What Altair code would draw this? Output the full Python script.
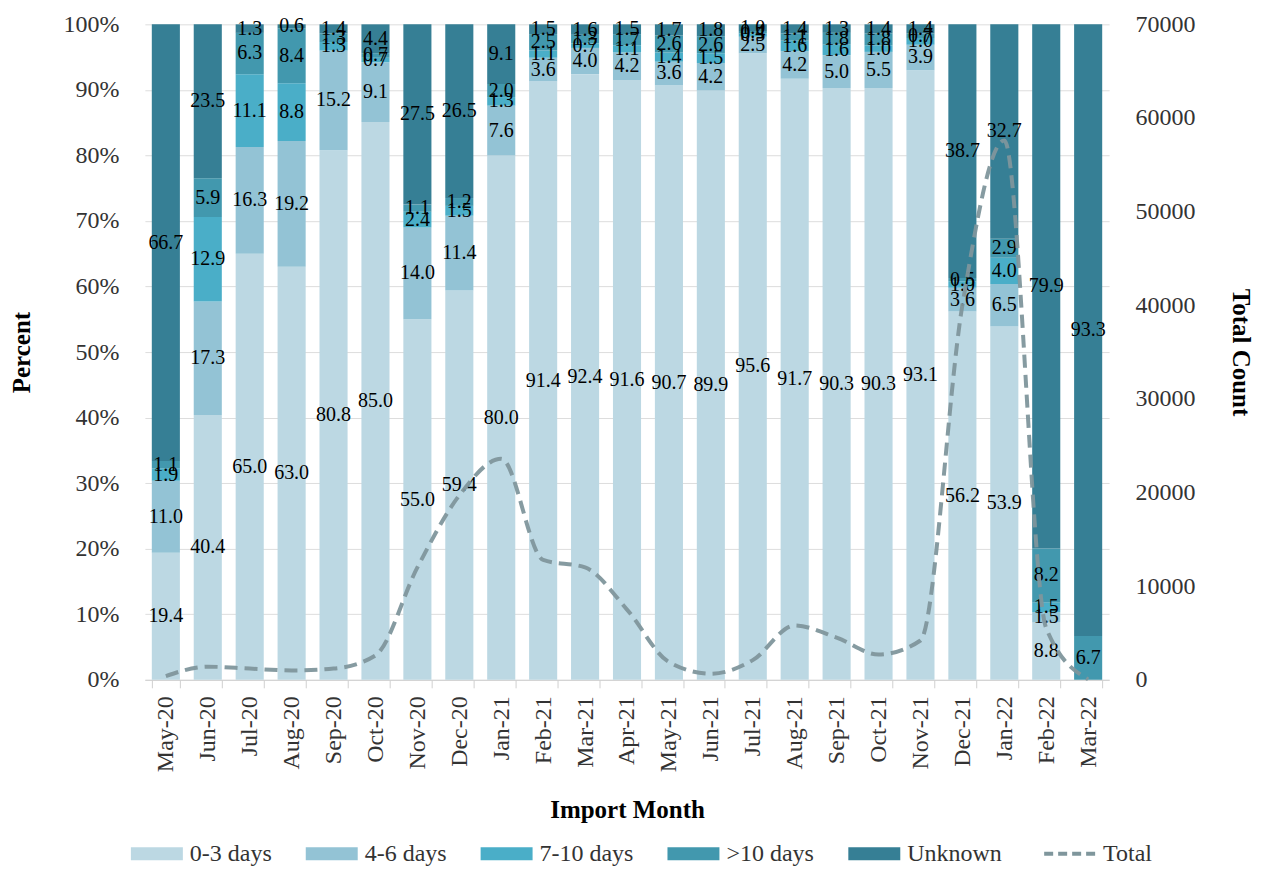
import altair as alt
import pandas as pd

months = ["May-20", "Jun-20", "Jul-20", "Aug-20", "Sep-20", "Oct-20", "Nov-20", "Dec-20",
          "Jan-21", "Feb-21", "Mar-21", "Apr-21", "May-21", "Jun-21", "Jul-21", "Aug-21",
          "Sep-21", "Oct-21", "Nov-21", "Dec-21", "Jan-22", "Feb-22", "Mar-22"]
categories = ["0-3 days", "4-6 days", "7-10 days", ">10 days", "Unknown"]
colors = ["#bcd8e3", "#93c3d5", "#4aaec8", "#4298ae", "#367f95"]
line_name = "Total"
line_color = "#7f969c"

d0_3 = [19.4, 40.4, 65.0, 63.0, 80.8, 85.0, 55.0, 59.4, 80.0, 91.4, 92.4, 91.6, 90.7, 89.9, 95.6, 91.7, 90.3, 90.3, 93.1, 56.2, 53.9, 8.8, 0.0]
d4_6 = [11.0, 17.3, 16.3, 19.2, 15.2, 9.1, 14.0, 11.4, 7.6, 3.6, 4.0, 4.2, 3.6, 4.2, 2.5, 4.2, 5.0, 5.5, 3.9, 3.6, 6.5, 1.5, 0.0]
d7_10 = [1.9, 12.9, 11.1, 8.8, 1.3, 0.7, 2.4, 1.5, 1.3, 1.1, 0.7, 1.1, 1.4, 1.5, 0.5, 1.6, 1.6, 1.0, 1.0, 1.0, 4.0, 1.5, 0.0]
d10p = [1.1, 5.9, 6.3, 8.4, 1.3, 0.7, 1.1, 1.2, 2.0, 2.5, 1.3, 1.7, 2.6, 2.6, 0.4, 1.1, 1.8, 1.8, 0.7, 0.5, 2.9, 8.2, 6.7]
unknown = [66.7, 23.5, 1.3, 0.6, 1.4, 4.4, 27.5, 26.5, 9.1, 1.5, 1.6, 1.5, 1.7, 1.8, 1.0, 1.4, 1.3, 1.4, 1.4, 38.7, 32.7, 79.9, 93.3]
total = [400, 1400, 1200, 1000, 1200, 2600, 12000, 19700, 23600, 12800, 12000, 7500, 1900, 650, 2100, 5800, 4500, 2700, 4200, 40000, 57600, 5500, 50]

series = [d0_3, d4_6, d7_10, d10p, unknown]
rows = []
for ci, (cat, vals) in enumerate(zip(categories, series)):
    for m, v in zip(months, vals):
        rows.append({"month": m, "category": cat, "order": ci, "value": v})
bars_df = pd.DataFrame(rows)
line_df = pd.DataFrame({"month": months, "total": total, "series": line_name})

FONT = "Liberation Serif"
TXT = "#333333"

color_scale = alt.Scale(domain=categories + [line_name], range=colors + [line_color])

is_total = f"datum.value === '{line_name}'"
legend = alt.Legend(
    title=None, orient="bottom", direction="horizontal", offset=19,
    labelFontSize=24, labelColor=TXT, symbolSize=676, labelOffset=21, columnPadding=34,
    symbolType=alt.ExprRef(f"{is_total} ? 'M-2,0H2' : 'M-2,-0.5H2V0.5H-2Z'"),
    symbolFillColor=alt.ExprRef(f"{is_total} ? 'transparent' : scale('color', datum.value)"),
    symbolStrokeColor=alt.ExprRef(f"{is_total} ? '{line_color}' : 'transparent'"),
    symbolDash=alt.ExprRef(f"{is_total} ? [9, 5] : [1, 0]"),
    symbolStrokeWidth=alt.ExprRef(f"{is_total} ? 4 : 0"),
    symbolOpacity=1,
)

x_enc = alt.X("month:N", sort=months, title="Import Month",
              scale=alt.Scale(paddingInner=0.33, paddingOuter=0.165),
              axis=alt.Axis(labelAngle=-90, labelFontSize=24, titleFontSize=25, labelColor=TXT,
                            titleColor="black", titleFontWeight="bold", titlePadding=26,
                            tickBand="extent", tickSize=8, domainColor="#d0d0d0",
                            tickColor="#d0d0d0", labelPadding=8, labelBaseline="middle"))

base = alt.Chart(bars_df).transform_stack(
    stack="value", groupby=["month"], as_=["y0", "y1"], sort=[alt.SortField("order")]
).transform_joinaggregate(
    tot="sum(value)", groupby=["month"]
).transform_calculate(
    p0="datum.y0 / datum.tot", p1="datum.y1 / datum.tot",
    pm="(datum.y0 + datum.y1) / 2 / datum.tot",
    lab="format(datum.value, '.1f')"
)

bars = base.mark_bar().encode(
    x=x_enc,
    y=alt.Y("p0:Q", title="Percent", scale=alt.Scale(domain=[0, 1]),
            axis=alt.Axis(format=".0%", tickCount=10, labelFontSize=24, titleFontSize=25,
                          labelColor=TXT, titleColor="black",
                          titleFontWeight="bold", titlePadding=28, labelPadding=26,
                          grid=True, gridColor="#dddddd", domain=False, ticks=False)),
    y2="p1:Q",
    color=alt.Color("category:N", scale=color_scale, legend=legend),
    order=alt.Order("order:Q"),
)

texts = base.transform_filter("datum.value > 0").mark_text(
    fontSize=20, font=FONT, color="black", baseline="middle"
).encode(
    x=alt.X("month:N", sort=months),
    y=alt.Y("pm:Q"),
    text="lab:N",
)

line = alt.Chart(line_df).mark_line(
    interpolate="monotone", strokeWidth=4, strokeDash=[13, 7], opacity=0.95
).encode(
    x=alt.X("month:N", sort=months),
    y=alt.Y("total:Q", title="Total Count", scale=alt.Scale(domain=[0, 70000]),
            axis=alt.Axis(orient="right", tickCount=7, format="d", labelFontSize=24,
                          titleFontSize=25, titleFontWeight="bold", titlePadding=32,
                          labelColor=TXT, titleColor="black",
                          labelPadding=26, grid=False, domain=False, ticks=False)),
    color=alt.Color("series:N", scale=color_scale, legend=legend),
)

chart = alt.layer(bars + texts, line).resolve_scale(
    y="independent"
).properties(
    width=965, height=656, padding={"left": 2, "top": 4, "right": 2, "bottom": 0}
).configure(font=FONT).configure_view(stroke=None).configure_legend(
    labelFont=FONT
)

chart.save("out.html", embed_options={"renderer": "svg", "actions": False})
